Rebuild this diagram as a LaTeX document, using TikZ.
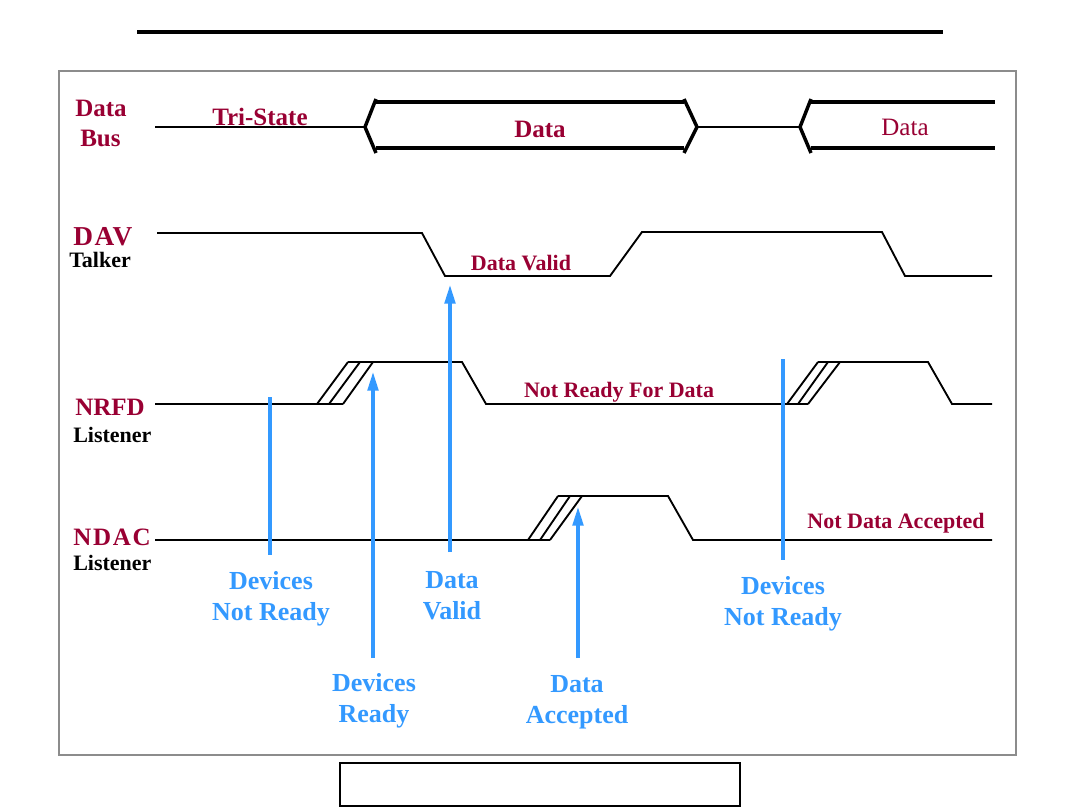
\documentclass[tikz,border=0pt]{standalone}
\usepackage{fontspec}
\setmainfont{Liberation Serif}
\usetikzlibrary{arrows.meta}
\definecolor{crim}{RGB}{153,0,51}
\definecolor{sky}{RGB}{51,153,255}
\definecolor{framegray}{RGB}{140,140,140}
\begin{document}
\begin{tikzpicture}[x=0.75pt,y=-0.75pt,
  biglbl/.style={text=crim,font=\bfseries\fontsize{18.75}{22}\selectfont,inner sep=0pt,anchor=base west},
  sublbl/.style={text=black,font=\bfseries\fontsize{16.5}{19}\selectfont,inner sep=0pt,anchor=base west},
  smalllbl/.style={text=crim,font=\bfseries\fontsize{16.5}{19}\selectfont,inner sep=0pt,anchor=base},
  note/.style={text=sky,font=\bfseries\fontsize{19.5}{23.25}\selectfont,inner sep=0pt,anchor=north,align=center},
  sig/.style={draw=black,line width=1.4pt,line join=miter},
  busl/.style={draw=black,line width=2.6pt},
  marker/.style={draw=sky,line width=2.4pt},
  markarrow/.style={marker,-{Triangle[length=14pt,width=8pt]}},
]
\useasboundingbox (0,0) rectangle (1080,810);
\fill[white] (0,0) rectangle (1080,810);
% page decorations
\draw[line width=3pt] (137,32) -- (943,32);
\draw[framegray,line width=2pt] (59,71) rectangle (1016,755);
\draw[line width=1.5pt] (340,763) rectangle (740,806);

% signal names
\node[biglbl] (busa) at (75,116) {Data};
\node[biglbl] (busb) at (80,146) {Bus};
\node[biglbl,font=\bfseries\fontsize{20.5}{24}\selectfont\addfontfeatures{LetterSpace=6}] (dav) at (73,245) {DAV};
\node[sublbl] (talker) at (69,267) {Talker};
\node[biglbl] (nrfd) at (75,415) {NRFD};
\node[sublbl] (lis1) at (73,442) {Listener};
\node[biglbl,font=\bfseries\fontsize{18.75}{22}\selectfont\addfontfeatures{LetterSpace=7}] (ndac) at (73,545) {NDAC};
\node[sublbl] (lis2) at (73,570) {Listener};

% data bus
\draw[sig] (155,127) -- (365,127);
\draw[busl] (376,99) -- (365,127) -- (376,153);
\draw[busl] (376,102) -- (684,102);
\draw[busl] (376,148) -- (684,148);
\draw[busl] (684,99) -- (697,127) -- (684,153);
\draw[sig] (697,127) -- (800,127);
\draw[busl] (811,99) -- (800,127) -- (811,153);
\draw[busl] (811,102) -- (995,102);
\draw[busl] (811,148) -- (995,148);
\node[biglbl] (tri) at (212,125) {Tri-State};
\node[biglbl,anchor=base] (data1) at (540,137) {Data};
\node[biglbl,anchor=base,font=\fontsize{18.75}{22}\selectfont] (data2) at (905,135) {Data};

% DAV
\draw[sig] (157,233) -- (422,233) -- (445,276) -- (610,276) -- (642,232) -- (882,232) -- (905,276) -- (992,276);
\node[smalllbl] (dvalid) at (521,270) {Data Valid};

% NRFD
\draw[sig] (155,404) -- (343,404);
\draw[sig] (317,404) -- (348,362);
\draw[sig] (329,404) -- (360,362);
\draw[sig] (343,404) -- (373,362);
\draw[sig] (348,362) -- (462,362) -- (486,404) -- (808,404);
\draw[sig] (787,404) -- (818,362);
\draw[sig] (798,404) -- (828,362);
\draw[sig] (808,404) -- (840,362);
\draw[sig] (818,362) -- (928,362) -- (952,404) -- (992,404);
\node[smalllbl] (nrfdtxt) at (619,397) {Not Ready For Data};

% NDAC
\draw[sig] (155,540) -- (550,540);
\draw[sig] (528,540) -- (558,496);
\draw[sig] (540,540) -- (570,496);
\draw[sig] (550,540) -- (582,496);
\draw[sig] (558,496) -- (668,496) -- (693,540) -- (992,540);
\node[smalllbl] (ndactxt) at (896,528) {Not Data Accepted};

% event markers
\coordinate (m1t) at (270,397);
\coordinate (m1b) at (270,555);
\coordinate (m2t) at (373,372);
\coordinate (m2b) at (373,658);
\coordinate (m3t) at (450,285);
\coordinate (m3b) at (450,552);
\coordinate (m4t) at (578,507);
\coordinate (m4b) at (578,658);
\coordinate (m5t) at (783,359);
\coordinate (m5b) at (783,560);
\draw[marker] (m1t) -- (m1b);
\draw[markarrow] (m2b) -- (m2t);
\draw[markarrow] (m3b) -- (m3t);
\draw[markarrow] (m4b) -- (m4t);
\draw[marker] (m5t) -- (m5b);

\node[note] (n1) at (271,571) {Devices\\Not Ready};
\node[note] (n3) at (452,571) {Data\\Valid};
\node[note] (n2) at (374,673) {Devices\\Ready};
\node[note] (n4) at (577,675) {Data\\Accepted};
\node[note] (n5) at (783,576) {Devices\\Not Ready};
\end{tikzpicture}
\end{document}
